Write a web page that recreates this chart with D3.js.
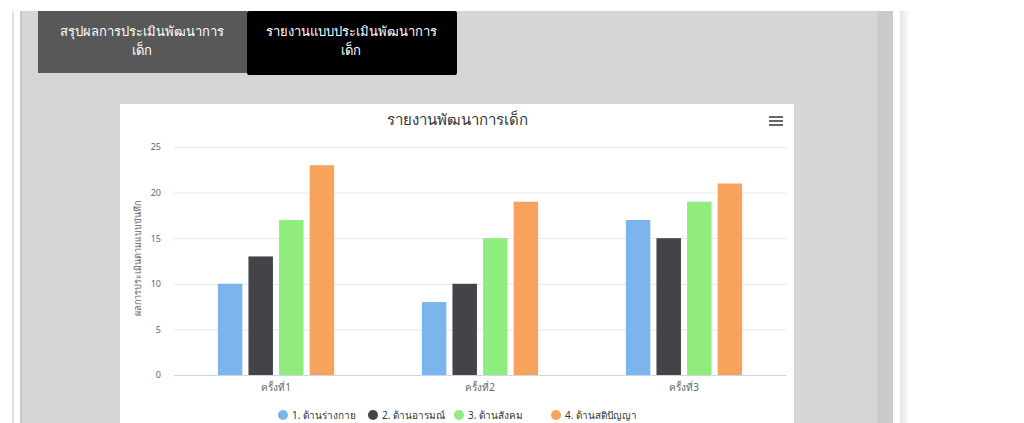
<!DOCTYPE html>
<html>
<head>
<meta charset="utf-8">
<script src="https://cdn.jsdelivr.net/npm/d3@7"></script>
<style>
    body { margin: 0; background: #fff; font-family: "Noto Sans", "Open Sans", sans-serif; }
    svg { display: block; }
</style>
</head>
<body>
<div id="chart"></div>
<script>
// data
var categories = ['ครั้งที่1', 'ครั้งที่2', 'ครั้งที่3'];
var seriesNames = ['1. ด้านร่างกาย', '2. ด้านอารมณ์', '3. ด้านสังคม', '4. ด้านสติปัญญา'];
var seriesColors = ['#7cb5ec', '#434348', '#90ed7d', '#f7a35c'];
var values = [
    [10, 8, 17],   // ร่างกาย
    [13, 10, 15],  // อารมณ์
    [17, 15, 19],  // สังคม
    [23, 19, 21]   // สติปัญญา
];
var yTicks = [0, 5, 10, 15, 20, 25];
var tabLabels = [['สรุปผลการประเมินพัฒนาการ', 'เด็ก'], ['รายงานแบบประเมินพัฒนาการ', 'เด็ก']];
var chartTitle = 'รายงานพัฒนาการเด็ก';
var yTitle = 'ผลการประเมินตามแบบบันทึก';

var W = 1024, H = 423;
var svg = d3.select('#chart').append('svg').attr('width', W).attr('height', H);

// page frame
svg.append('rect').attr('x', 0).attr('y', 0).attr('width', W).attr('height', H).attr('fill', '#fff');
svg.append('rect').attr('x', 12).attr('y', 11).attr('width', 2).attr('height', H).attr('fill', '#e2e2e2');
svg.append('rect').attr('x', 20).attr('y', 11).attr('width', 858).attr('height', H).attr('fill', '#d6d6d6');
svg.append('rect').attr('x', 20).attr('y', 11).attr('width', 2).attr('height', H).attr('fill', '#c8c8c8');
svg.append('rect').attr('x', 877).attr('y', 11).attr('width', 16).attr('height', H).attr('fill', '#cacaca');

var grad = svg.append('defs').append('linearGradient').attr('id', 'shadow');
grad.append('stop').attr('offset', '0%').attr('stop-color', '#e4e4e4');
grad.append('stop').attr('offset', '100%').attr('stop-color', '#ffffff');
svg.append('rect').attr('x', 900).attr('y', 11).attr('width', 10).attr('height', H).attr('fill', 'url(#shadow)');

// tabs
var tabs = svg.selectAll('.tab').data(tabLabels).enter().append('g')
    .attr('class', 'tab')
    .attr('transform', function(d, i) { return 'translate(' + (38 + i * 209) + ',11)'; });
tabs.append('rect')
    .attr('width', function(d, i) { return i === 0 ? 209 : 210; })
    .attr('height', function(d, i) { return i === 0 ? 62 : 64; })
    .attr('rx', function(d, i) { return i === 0 ? 0 : 2; })
    .attr('fill', function(d, i) { return i === 0 ? '#585858' : '#000'; });
tabs.each(function(d) {
    var g = d3.select(this);
    d.forEach(function(line, k) {
        g.append('text')
            .attr('x', 104).attr('y', 25 + k * 19)
            .attr('text-anchor', 'middle')
            .attr('fill', '#fff')
            .attr('font-size', 13)
            .text(line);
    });
});

// chart box
svg.append('rect').attr('x', 120).attr('y', 104).attr('width', 674).attr('height', H - 104).attr('fill', '#fff');

svg.append('text')
    .attr('x', 457).attr('y', 125)
    .attr('text-anchor', 'middle')
    .attr('fill', '#333')
    .attr('font-size', 15)
    .text(chartTitle);

// menu icon
[117, 121, 125].forEach(function(y) {
    svg.append('rect').attr('x', 769).attr('y', y - 1).attr('width', 14).attr('height', 2).attr('fill', '#666');
});

// scales
var plot = { left: 174, right: 786, top: 147, bottom: 375 };
var x0 = d3.scaleBand().domain(categories).range([plot.left, plot.right]);
var x1 = d3.scaleBand().domain(d3.range(seriesNames.length))
    .range([x0.bandwidth() * 0.2, x0.bandwidth() * 0.8])
    .paddingInner(0.2).paddingOuter(0.1);
var y = d3.scaleLinear().domain([0, 25]).range([plot.bottom, plot.top]);

// grid + y axis
var yAxis = svg.append('g')
    .attr('transform', 'translate(' + plot.left + ',0)')
    .call(d3.axisLeft(y).tickValues(yTicks).tickSize(-(plot.right - plot.left)).tickPadding(13));
yAxis.select('.domain').remove();
yAxis.selectAll('.tick line').attr('stroke', '#e6e6e6');
yAxis.selectAll('.tick text').attr('fill', '#666').attr('font-size', 9).attr('font-family', '"Noto Sans", sans-serif');

svg.append('text')
    .attr('transform', 'translate(141,' + 258 + ') rotate(-90)')
    .attr('text-anchor', 'middle')
    .attr('fill', '#666')
    .attr('font-size', 9)
    .text(yTitle);

// bars
var groups = svg.selectAll('.series').data(values).enter().append('g')
    .attr('class', 'series')
    .attr('fill', function(d, i) { return seriesColors[i]; });
groups.each(function(vals, si) {
    d3.select(this).selectAll('rect').data(vals).enter().append('rect')
        .attr('x', function(v, ci) { return x0(categories[ci]) + x1(si); })
        .attr('y', function(v) { return y(v); })
        .attr('width', x1.bandwidth())
        .attr('height', function(v) { return y(0) - y(v); });
});

// x axis
var xAxis = svg.append('g')
    .attr('transform', 'translate(0,' + plot.bottom + ')')
    .call(d3.axisBottom(x0).tickSize(0).tickPadding(9));
xAxis.select('.domain').attr('stroke', '#ccd6eb');
xAxis.selectAll('.tick text').attr('fill', '#666').attr('font-size', 10).attr('font-family', '"Noto Sans", sans-serif');

// legend
var legendX = [283, 373, 459, 556];
var legend = svg.selectAll('.legend').data(seriesNames).enter().append('g')
    .attr('class', 'legend')
    .attr('transform', function(d, i) { return 'translate(' + legendX[i] + ',415)'; });
legend.append('circle').attr('r', 5).attr('fill', function(d, i) { return seriesColors[i]; });
legend.append('text')
    .attr('x', 9).attr('y', 4)
    .attr('fill', '#333')
    .attr('font-size', 10)
    .text(function(d) { return d; });
</script>
</body>
</html>
